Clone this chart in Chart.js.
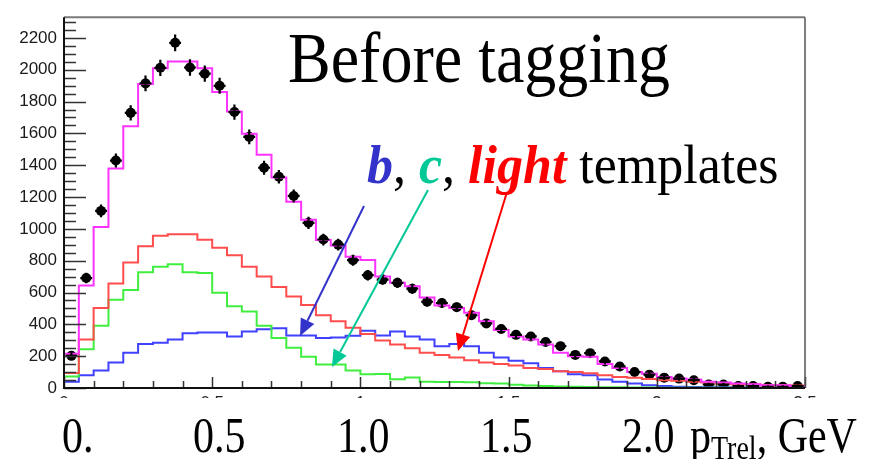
<!DOCTYPE html>
<html>
<head>
<meta charset="utf-8">
<script src="https://cdn.jsdelivr.net/npm/chart.js@4.4.1/dist/chart.umd.min.js"></script>
<style>
  html, body { margin: 0; padding: 0; background: #fff; }
  #grafica { display: block; }
</style>
</head>
<body>
<canvas id="grafica" width="878" height="459"></canvas>
<script>
// p_Trel, 50 bins de 0.05 GeV entre 0 y 2.5
const anchoBin = 0.05;

// datos (puntos negros)
const datos = [202, 691, 1113, 1429, 1729, 1914, 2012, 2169, 2014, 1975,
               1899, 1734, 1578, 1384, 1327, 1207, 1038, 933, 901, 803,
               709, 681, 661, 624, 542, 534, 508, 457, 406, 371,
               334, 324, 289, 263, 208, 219, 167, 135, 100, 84,
               65, 59, 49, 22, 22, 12, 12, 8, 8, 12];

// ajuste total (magenta)
const total = [216, 644, 1011, 1380, 1645, 1910, 2010, 2051, 2051, 2010,
               1860, 1738, 1598, 1466, 1323, 1170, 1058, 930, 895, 824,
               805, 701, 661, 640, 569, 518, 502, 473, 420, 365,
               324, 304, 273, 222, 200, 196, 151, 126, 100, 90,
               69, 59, 53, 39, 35, 29, 24, 18, 18, 12];

// plantilla light (rojo)
const light = [94, 304, 502, 656, 789, 891, 956, 966, 966, 932,
               881, 834, 762, 701, 634, 575, 522, 457, 420, 379,
               340, 298, 273, 249, 222, 208, 192, 175, 161, 151,
               141, 126, 120, 106, 100, 92, 80, 69, 65, 57,
               49, 45, 39, 35, 29, 24, 22, 18, 18, 16];

// plantilla c (verde)
const charm = [73, 243, 391, 555, 616, 728, 762, 777, 728, 722,
               599, 514, 481, 391, 314, 253, 196, 147, 147, 110,
               86, 88, 55, 66, 40, 38, 38, 36, 30, 28,
               20, 16, 12, 10, 8, 6, 5, 4, 3, 3,
               2, 2, 1, 1, 1, 1, 0, 0, 0, 0];

// plantilla b (azul)
const bottom = [39, 80, 110, 161, 222, 277, 285, 304, 344, 349,
                349, 324, 355, 369, 375, 330, 330, 314, 318, 328,
                359, 330, 355, 324, 304, 263, 277, 263, 222, 192,
                171, 155, 126, 106, 86, 80, 53, 39, 29, 18,
                12, 8, 6, 5, 4, 3, 3, 2, 2, 1];

const ticksX = [0, 0.5, 1, 1.5, 2, 2.5];
const ticksY = [0, 200, 400, 600, 800, 1000, 1200, 1400, 1600, 1800, 2000, 2200];
const etiquetasX = ['0.', '0.5', '1.0', '1.5', '2.0'];

// histograma: un punto por borde izquierdo + el borde final
function escalones(valores) {
    const pts = valores.map((v, i) => ({ x: i * anchoBin, y: v }));
    pts.push({ x: valores.length * anchoBin, y: valores[valores.length - 1] });
    return pts;
}

function histo(valores, color) {
    return {
        data: escalones(valores),
        borderColor: color,
        borderWidth: 2,
        stepped: true,
        pointRadius: 0,
        fill: false
    };
}

// texto un poco estirado en vertical, como en la diapositiva
function texto(ctx, t, x, y, sy) {
    ctx.save();
    ctx.translate(x, y);
    ctx.scale(1, sy);
    ctx.fillText(t, 0, 0);
    ctx.restore();
    return ctx.measureText(t).width;
}

function flecha(ctx, x1, y1, x2, y2, color) {
    const ang = Math.atan2(y2 - y1, x2 - x1);
    const largo = 17, ancho = 7.5;
    const bx = x2 - largo * Math.cos(ang), by = y2 - largo * Math.sin(ang);
    ctx.strokeStyle = color;
    ctx.fillStyle = color;
    ctx.lineWidth = 2;
    ctx.beginPath();
    ctx.moveTo(x1, y1);
    ctx.lineTo(bx, by);
    ctx.stroke();
    ctx.beginPath();
    ctx.moveTo(x2, y2);
    ctx.lineTo(bx + ancho * Math.sin(ang), by - ancho * Math.cos(ang));
    ctx.lineTo(bx - ancho * Math.sin(ang), by + ancho * Math.cos(ang));
    ctx.closePath();
    ctx.fill();
}

// marco, ticks hacia dentro y barras de error estilo ROOT
const estiloRoot = {
    id: 'estiloRoot',
    afterDatasetsDraw(chart) {
        const { ctx, chartArea: a, scales: { x, y } } = chart;
        ctx.save();
        // barras de error de los datos
        ctx.strokeStyle = '#000';
        ctx.lineWidth = 2.2;
        datos.forEach((v, i) => {
            const xc = (i + 0.5) * anchoBin;
            const err = Math.sqrt(v);
            ctx.beginPath();
            ctx.moveTo(x.getPixelForValue(xc), y.getPixelForValue(v - err) + 1);
            ctx.lineTo(x.getPixelForValue(xc), y.getPixelForValue(v + err) - 1);
            ctx.moveTo(x.getPixelForValue(xc - 0.02), y.getPixelForValue(v));
            ctx.lineTo(x.getPixelForValue(xc + 0.02), y.getPixelForValue(v));
            ctx.stroke();
        });

        // ticks
        ctx.strokeStyle = '#333';
        ctx.lineWidth = 1.5;
        ctx.beginPath();
        for (let v = 0; v <= 2330; v += 50) {
            const py = Math.round(y.getPixelForValue(v)) + 0.5;
            const l = v % 200 === 0 ? 22 : 12;
            ctx.moveTo(a.left, py);
            ctx.lineTo(a.left + l, py);
        }
        for (let k = 0; k <= 25; k++) {
            const px = Math.round(x.getPixelForValue(k * 0.1)) + 0.5;
            const l = k % 5 === 0 ? 11 : 7;
            ctx.moveTo(px, a.bottom);
            ctx.lineTo(px, a.bottom - l);
        }
        ctx.stroke();

        // marco
        ctx.lineWidth = 2;
        ctx.strokeStyle = '#7a7a7a';
        ctx.beginPath();
        ctx.moveTo(a.left, a.top);
        ctx.lineTo(a.right, a.top);
        ctx.stroke();
        ctx.strokeStyle = '#555';
        ctx.lineWidth = 1.5;
        ctx.beginPath();
        ctx.moveTo(a.right, a.top);
        ctx.lineTo(a.right, a.bottom);
        ctx.stroke();
        ctx.strokeStyle = '#111';
        ctx.lineWidth = 2;
        ctx.beginPath();
        ctx.moveTo(a.left, a.top);
        ctx.lineTo(a.left, a.bottom);
        ctx.lineTo(a.right, a.bottom);
        ctx.stroke();
        ctx.restore();
    },
    afterDraw(chart) {
        const { ctx } = chart;
        ctx.save();
        // caja de texto de la diapositiva que tapa las etiquetas del eje
        ctx.fillStyle = '#fff';
        ctx.fillRect(0, 398, 878, 61);

        ctx.fillStyle = '#000';
        ctx.textBaseline = 'alphabetic';
        ctx.textAlign = 'left';

        // etiquetas grandes del eje x
        const xs = [62, 193, 337, 480, 622];
        ctx.font = '42px "Liberation Serif"';
        etiquetasX.forEach((t, i) => texto(ctx, t, xs[i], 452, 1.2));
        let px = 690;
        px += texto(ctx, 'p', px, 452, 1.2);
        ctx.font = '28px "Liberation Serif"';
        px += texto(ctx, 'Trel', px, 459, 1.2);
        ctx.font = '42px "Liberation Serif"';
        texto(ctx, ', GeV', px, 452, 1.2);

        // título
        ctx.font = '64px "Liberation Serif"';
        texto(ctx, 'Before tagging', 288, 82, 1.12);

        // b, c, light templates
        const partes = [
            ['b', '#3333cc', 'italic bold'],
            [', ', '#000', ''],
            ['c', '#00c896', 'italic bold'],
            [', ', '#000', ''],
            ['light', '#ff0000', 'italic bold'],
            [' templates', '#000', '']
        ];
        px = 367;
        partes.forEach(([t, c, f]) => {
            ctx.font = (f ? f + ' ' : '') + '52px "Liberation Serif"';
            ctx.fillStyle = c;
            px += texto(ctx, t, px, 183, 1.05);
        });

        // flechas hacia cada plantilla
        flecha(ctx, 364, 206, 300, 336, '#3333cc');
        flecha(ctx, 428, 190, 332, 367, '#00c896');
        flecha(ctx, 507, 192, 458, 351, '#ff0000');
        ctx.restore();
    }
};

new Chart(document.getElementById('grafica'), {
    type: 'line',
    data: {
        datasets: [
            histo(total, '#ff33ff'),
            histo(light, '#ff4d4d'),
            histo(charm, '#40ee40'),
            histo(bottom, '#4040ff'),
            {
                type: 'scatter',
                data: datos.map((v, i) => ({ x: (i + 0.5) * anchoBin, y: v })),
                pointStyle: 'circle',
                pointRadius: 5,
                pointBackgroundColor: '#000',
                pointBorderWidth: 0,
                showLine: false
            }
        ]
    },
    options: {
        responsive: false,
        animation: false,
        layout: { padding: { top: 7, right: 73, left: 0, bottom: 0 } },
        plugins: {
            legend: { display: false },
            tooltip: { enabled: false }
        },
        scales: {
            x: {
                type: 'linear',
                min: 0,
                max: 2.5,
                grid: { display: false, drawTicks: false },
                border: { display: false },
                afterBuildTicks: s => { s.ticks = ticksX.map(v => ({ value: v })); },
                afterFit: s => { s.height = 71; },
                ticks: {
                    padding: 5,
                    maxRotation: 0,
                    font: { family: 'Liberation Sans', size: 17 },
                    color: '#222',
                    callback: v => String(v)
                }
            },
            y: {
                min: 0,
                max: 2330,
                grid: { display: false, drawTicks: false },
                border: { display: false },
                afterBuildTicks: s => { s.ticks = ticksY.map(v => ({ value: v })); },
                afterFit: s => { s.width = 64; },
                ticks: {
                    padding: 7,
                    font: { family: 'Liberation Sans', size: 17 },
                    color: '#1a1a1a',
                    callback: v => String(v)
                }
            }
        }
    },
    plugins: [estiloRoot]
});
</script>
</body>
</html>
